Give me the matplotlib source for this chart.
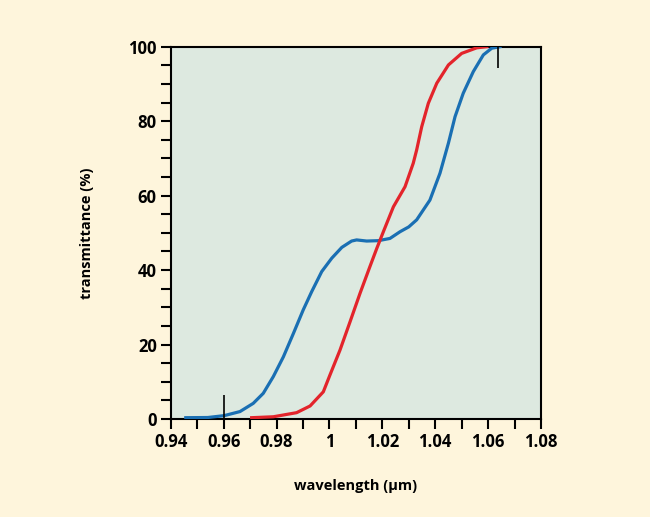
import numpy
import matplotlib
matplotlib.use("Agg")
import matplotlib.pyplot as plt
from matplotlib.ticker import MultipleLocator

# wavelength (um) / transmittance (%)
blue_wl = [0.9457, 0.9540, 0.9602, 0.9662, 0.9712, 0.9750, 0.9788, 0.9826, 0.9864, 0.9901,
           0.9933, 0.9971, 1.0009, 1.0047, 1.0084, 1.0103, 1.0141, 1.0185, 1.0229, 1.0267,
           1.0300, 1.0330, 1.0380, 1.0418, 1.0450, 1.0475, 1.0506, 1.0544, 1.0582, 1.0614,
           1.0645]
blue_t = [0.35, 0.4, 0.9, 2.0, 4.2, 6.9, 11.4, 16.7, 23.0, 29.3,
          34.2, 39.6, 43.2, 46.1, 47.8, 48.1, 47.8, 47.9, 48.5, 50.3,
          51.6, 53.5, 58.8, 66.0, 74.1, 81.2, 87.5, 93.3, 97.8, 99.6,
          100.0]

red_wl = [0.9706, 0.9788, 0.9876, 0.9927, 0.9977, 1.0002, 1.0040, 1.0078, 1.0116, 1.0153,
          1.0179, 1.0204, 1.0242, 1.0286, 1.0317, 1.0330, 1.0349, 1.0374, 1.0406, 1.0450,
          1.0500, 1.0557, 1.0595]
red_t = [0.35, 0.6, 1.7, 3.5, 7.3, 11.8, 18.5, 26.1, 33.8, 40.9,
         45.8, 50.3, 57.0, 62.4, 68.7, 72.3, 78.5, 84.8, 90.2, 95.1,
         98.2, 99.7, 100.0]

# small vertical markers
marker_wl = [0.960, 1.0639]
marker_lo = [0.0, 94.2]
marker_hi = [6.5, 100.0]

plt.rcParams['font.family'] = ['Open Sans', 'DejaVu Sans']
plt.rcParams['font.weight'] = 'bold'

fig = plt.figure(figsize=(6.5, 5.17), dpi=100, facecolor='#fef5dc')
ax = fig.add_axes([170.7 / 650, 1 - 419 / 517, 370.3 / 650, 372.3 / 517])
ax.set_facecolor('#dde9e0')

ax.plot(blue_wl, blue_t, color='#1a6fb3', lw=2.3, solid_joinstyle='round', zorder=3)
ax.plot(red_wl, red_t, color='#e3242b', lw=2.3, solid_joinstyle='round', zorder=3)
ax.vlines(marker_wl, marker_lo, marker_hi, color='black', lw=1.2, zorder=4)

ax.set_xlim(0.94, 1.08)
ax.set_ylim(0, 100)
ax.xaxis.set_minor_locator(MultipleLocator(0.01))
ax.yaxis.set_major_locator(MultipleLocator(20))
ax.yaxis.set_minor_locator(MultipleLocator(5))
ax.set_xticks([0.94, 0.96, 0.98, 1.0, 1.02, 1.04, 1.06, 1.08])
ax.set_xticklabels(['0.94', '0.96', '0.98', '1', '1.02', '1.04', '1.06', '1.08'])
ax.tick_params(which='both', direction='out', length=7, width=1.5, colors='black',
               labelsize=12, pad=3)
for lab in ax.get_xticklabels() + ax.get_yticklabels():
    lab.set_fontweight('bold')
for s in ax.spines.values():
    s.set_linewidth(1.5)

ax.set_xlabel('wavelength (µm)', fontsize=10.5, fontweight='bold', labelpad=20)
ax.set_ylabel('transmittance (%)', fontsize=10.5, fontweight='bold', labelpad=25)

fig.savefig('out.png', dpi=100, facecolor=fig.get_facecolor())
